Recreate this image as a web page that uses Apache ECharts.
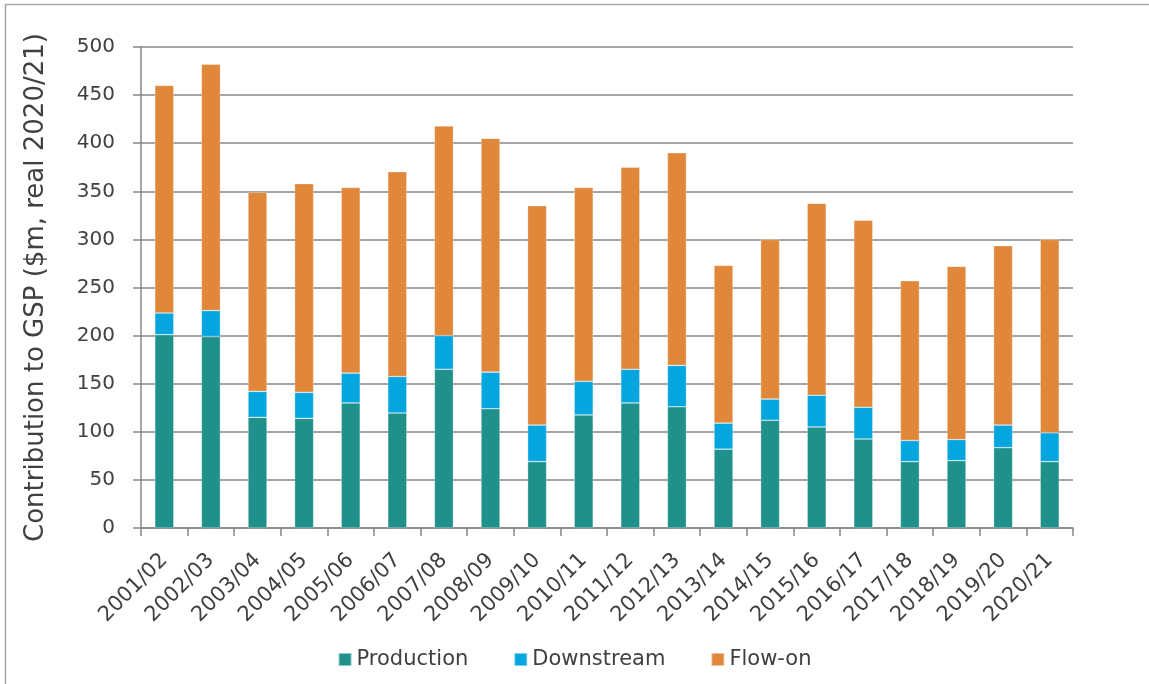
<!DOCTYPE html>
<html>
<head>
<meta charset="utf-8">
<script src="https://cdn.jsdelivr.net/npm/echarts@6/dist/echarts.min.js"></script>
<style>
html,body{margin:0;padding:0;background:#fff;}
#chart{width:1149px;height:684px;}
</style>
</head>
<body>
<div id="chart"></div>
<script>
const categories = ['2001/02','2002/03','2003/04','2004/05','2005/06','2006/07','2007/08','2008/09','2009/10','2010/11','2011/12','2012/13','2013/14','2014/15','2015/16','2016/17','2017/18','2018/19','2019/20','2020/21'];
const production = [201,199,115,114,130,119.5,165,124,69,117.5,130,126,82,112,105,92.5,69,70,83.5,69];
const downstream = [22.5,27,27,27,31,38,35,38,38,35,35,43,27,22,33,33,22,22,23.5,30];
const flowOn = [236.5,256,207,217,193,213,218,243,228,201.5,210,221,164,166,199.5,194.5,166,180,186.5,201];
const yTicks = [0,50,100,150,200,250,300,350,400,450,500];

const FONT = 'DejaVu Sans';
const TXT = '#404040';
const GRID = '#868686';

const chart = echarts.init(document.getElementById('chart'), null, {renderer:'canvas'});
const seriesDefs = [
  {name:'Production', data:production, color:'#20908A'},
  {name:'Downstream', data:downstream, color:'#05A5E0'},
  {name:'Flow-on', data:flowOn, color:'#E0873A'}
];
chart.setOption({
  animation:false,
  backgroundColor:'#fff',
  graphic:[
    {type:'line', shape:{x1:5, y1:4.5, x2:1149, y2:4.5}, style:{stroke:'#a6a6a6', lineWidth:1.5}},
    {type:'line', shape:{x1:5.5, y1:4, x2:5.5, y2:684}, style:{stroke:'#a6a6a6', lineWidth:1.5}}
  ],
  grid:{left:141, right:76, top:47, bottom:156},
  legend:{
    bottom:9, left:'center',
    itemWidth:13, itemHeight:13, itemGap:45,
    icon:'rect',
    textStyle:{fontFamily:FONT, fontSize:21, color:TXT},
    data:seriesDefs.map(s=>s.name)
  },
  xAxis:{
    type:'category', data:categories,
    axisLine:{lineStyle:{color:GRID, width:1.5}},
    axisTick:{show:true, length:8, lineStyle:{color:GRID, width:1.5}},
    axisLabel:{rotate:45, fontFamily:FONT, fontSize:21, color:TXT, margin:29, interval:0,
      align:'right', verticalAlign:'middle', padding:[5,0,0,0]}
  },
  yAxis:{
    type:'value', min:0, max:500, interval:50,
    name:'Contribution to GSP ($m, real 2020/21)',
    nameLocation:'middle', nameGap:92, nameRotate:90,
    nameTextStyle:{fontFamily:FONT, fontSize:26, color:TXT},
    axisLine:{show:true, lineStyle:{color:GRID, width:1.5}},
    axisTick:{show:true, length:8, lineStyle:{color:GRID, width:1.5}},
    splitLine:{show:true, lineStyle:{color:GRID, width:1.5}},
    axisLabel:{fontFamily:FONT, fontSize:20, color:TXT, margin:26,
      formatter:function(v){ return yTicks.indexOf(v) >= 0 ? String(v) : ''; }}
  },
  series:seriesDefs.map(s=>({
    name:s.name, type:'bar', stack:'total', data:s.data, barWidth:19,
    itemStyle:{color:s.color, borderColor:'rgba(255,255,255,0.5)', borderWidth:0.6}
  }))
});
</script>
</body>
</html>
